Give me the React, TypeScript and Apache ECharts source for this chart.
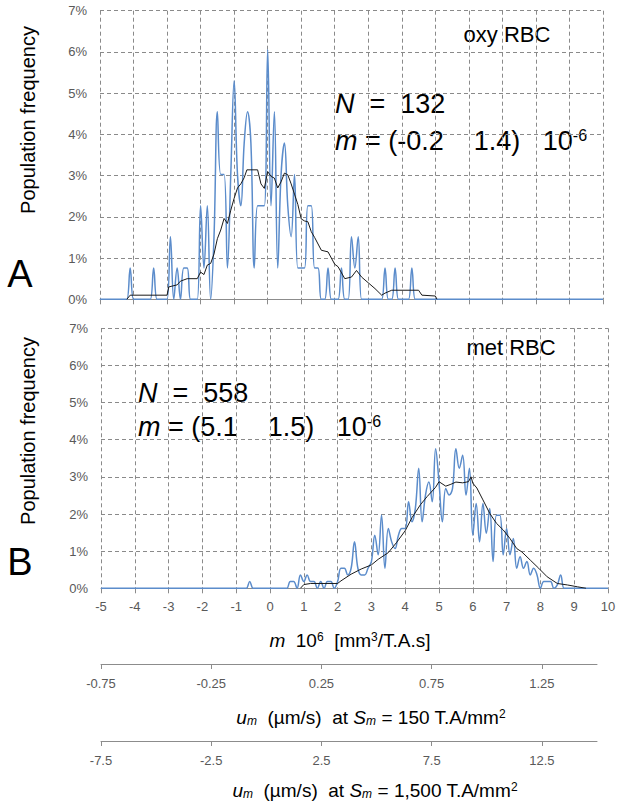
import React, { useEffect, useRef } from "react";
import * as echarts from "echarts";

// ---- data ----
// histogram bins: first bin centre and bin width (m x 10^6)
const binStart = -5;
const binStep = 0.1;

// oxy RBC population frequency (%) per bin, rows of 10 bins: -5.0..-4.1, -4.0..-3.1, ...
const oxyFreq = [
  0, 0, 0, 0, 0, 0, 0, 0, 0, 0.76,
  0, 0, 0, 0, 0, 0, 0.76, 0, 0, 0,
  0, 1.52, 0, 0.76, 0, 0.76, 0.76, 0, 0, 0,
  2.27, 0.76, 2.27, 0, 1.52, 4.55, 3.03, 3.03, 0.76, 3.03,
  5.3, 3.03, 2.27, 3.79, 4.55, 3.79, 0.76, 2.27, 2.27, 2.27,
  6.06, 2.27, 4.55, 0.76, 3.03, 3.79, 2.27, 1.52, 3.03, 0.76,
  0.76, 0.76, 2.27, 2.27, 0.76, 0.76, 0, 0, 0.76, 0,
  0, 0, 0.76, 0, 0, 1.52, 0.76, 1.52, 0, 0,
  0, 0, 0, 0, 0, 0.76, 0, 0, 0.76, 0,
  0, 0, 0, 0.76, 0, 0, 0, 0, 0, 0,
  0, 0, 0, 0, 0, 0, 0, 0, 0, 0,
  0, 0, 0, 0, 0, 0, 0, 0, 0, 0,
  0, 0, 0, 0, 0, 0, 0, 0, 0, 0,
  0, 0, 0, 0, 0, 0, 0, 0, 0, 0,
  0, 0, 0, 0, 0, 0, 0, 0, 0, 0,
  0,
];

// oxy RBC moving average [m, %]
const oxyAvg = [
  [-4.2, 0], [-4.1, 0.1], [-3.0, 0.1], [-2.95, 0.3], [-2.7, 0.35], [-2.6, 0.44], [-2.4, 0.5],
  [-2.1, 0.5], [-2.0, 0.66], [-1.9, 0.6], [-1.8, 0.83], [-1.7, 0.87], [-1.6, 1.1], [-1.5, 1.47],
  [-1.4, 1.68], [-1.3, 1.96], [-1.2, 1.84], [-1.1, 2.16], [-1.0, 2.45], [-0.9, 2.7], [-0.8, 2.8],
  [-0.7, 2.95], [-0.62, 3.14], [-0.3, 3.14], [-0.2, 2.8], [-0.1, 2.69], [0.0, 3.1], [0.1, 2.98],
  [0.2, 2.94], [0.3, 2.7], [0.4, 2.85], [0.5, 3.06], [0.6, 3.02], [0.7, 2.8], [0.8, 2.55],
  [0.9, 2.3], [1.0, 1.95], [1.1, 1.9], [1.2, 1.88], [1.3, 1.64], [1.4, 1.5], [1.6, 1.19],
  [1.8, 1.15], [2.0, 0.85], [2.1, 0.79], [2.3, 0.5], [2.5, 0.54], [2.65, 0.7], [2.8, 0.54],
  [3.0, 0.4], [3.2, 0.26], [3.4, 0.1], [3.5, 0.15], [3.7, 0.22], [4.5, 0.22], [4.6, 0.1],
  [5.0, 0.08], [5.05, 0],
];

// met RBC population frequency (%) per bin
const metFreq = [
  0, 0, 0, 0, 0, 0, 0, 0, 0, 0,
  0, 0, 0, 0, 0, 0, 0, 0, 0, 0,
  0, 0, 0, 0, 0, 0, 0, 0, 0, 0,
  0, 0, 0, 0, 0, 0, 0, 0, 0, 0,
  0, 0, 0, 0, 0.18, 0, 0, 0, 0, 0,
  0, 0, 0, 0, 0, 0, 0.18, 0.18, 0, 0.36,
  0.18, 0.36, 0.18, 0.18, 0, 0.18, 0, 0.18, 0.18, 0,
  0.18, 0.54, 0.54, 0.36, 0.54, 1.25, 0.54, 0.36, 0.36, 0.54,
  0.72, 1.43, 0.9, 1.97, 0.54, 1.61, 1.25, 1.07, 1.43, 1.61,
  1.61, 2.33, 1.79, 2.15, 3.23, 1.79, 2.51, 2.86, 2.33, 3.76,
  2.86, 1.79, 2.69, 2.51, 2.69, 3.76, 3.23, 3.58, 2.51, 3.23,
  1.43, 2.28, 1.25, 2.28, 1.48, 2.15, 0.72, 1.97, 1.97, 0.9,
  1.61, 0.9, 1.34, 0.54, 0.85, 0.54, 0.72, 0.36, 0.54, 0.36,
  0, 0.18, 0.18, 0.18, 0, 0.09, 0.36, 0, 0, 0,
  0, 0, 0, 0, 0, 0, 0, 0, 0, 0,
  0,
];

// met RBC moving average [m, %]
const metAvg = [
  [0.9, 0], [1.0, 0.1], [1.2, 0.13], [2.0, 0.13], [2.1, 0.2], [2.4, 0.38], [2.7, 0.52],
  [3.0, 0.63], [3.2, 0.78], [3.4, 0.9], [3.5, 0.96], [3.75, 1.24], [4.0, 1.55], [4.2, 1.9],
  [4.45, 2.25], [4.65, 2.47], [4.9, 2.72], [5.0, 2.87], [5.2, 2.75], [5.35, 2.8], [5.5, 2.86],
  [5.7, 2.84], [5.87, 2.87], [5.95, 3.0], [6.0, 2.83], [6.12, 2.7], [6.3, 2.38], [6.5, 2.02],
  [6.7, 1.75], [6.9, 1.57], [7.1, 1.34], [7.3, 1.07], [7.45, 0.98], [7.7, 0.76], [7.95, 0.54],
  [8.2, 0.31], [8.5, 0.13], [8.8, 0.09], [9.1, 0.04], [9.35, 0],
];

// secondary axes
const u150Range = [-0.75, 1.5];
const u150Ticks = [-0.75, -0.25, 0.25, 0.75, 1.25];
const u1500Range = [-7.5, 15];
const u1500Ticks = [-7.5, -2.5, 2.5, 7.5, 12.5];

const FONT = '"Liberation Sans", Arial, Helvetica, sans-serif';
const GRID_COLOR = "#8a8a8a";
const AXIS_COLOR = "#8c8c8c";
const LABEL_COLOR = "#595959";
const BLUE = "#5b8ccb";

const toPts = (vals: number[]) =>
  vals.map((v, i) => [Number((binStart + i * binStep).toFixed(1)), v]);

const mainX = (gridIndex: number, showLabels: boolean) => ({
  gridIndex,
  type: "value",
  min: -5,
  max: 10,
  interval: 1,
  axisLine: { show: true, onZero: false, lineStyle: { color: AXIS_COLOR, width: 1 } },
  axisTick: { show: true, length: 5, lineStyle: { color: AXIS_COLOR } },
  axisLabel: {
    show: showLabels,
    color: LABEL_COLOR,
    fontSize: 13,
    fontFamily: FONT,
    margin: 12,
  },
  splitLine: { show: true, lineStyle: { color: GRID_COLOR, type: [4, 3], width: 1 } },
});

const mainY = (gridIndex: number) => ({
  gridIndex,
  type: "value",
  min: 0,
  max: 7,
  interval: 1,
  axisLine: { show: false },
  axisTick: { show: false },
  axisLabel: {
    formatter: "{value}%",
    color: LABEL_COLOR,
    fontSize: 13,
    fontFamily: FONT,
    margin: 13,
  },
  splitLine: {
    show: true,
    showMinLine: false,
    lineStyle: { color: GRID_COLOR, type: [4, 3], width: 1 },
  },
});

const secondaryX = (gridIndex: number, range: number[], ticks: number[], digits: number) => ({
  gridIndex,
  type: "value",
  min: range[0],
  max: range[1],
  axisLine: { show: true, onZero: false, lineStyle: { color: AXIS_COLOR, width: 1 } },
  axisTick: { show: true, length: 5, customValues: ticks, lineStyle: { color: AXIS_COLOR } },
  axisLabel: {
    show: true,
    customValues: ticks,
    formatter: (v: number) => v.toFixed(digits),
    color: LABEL_COLOR,
    fontSize: 13,
    fontFamily: FONT,
    margin: 13,
  },
  splitLine: { show: false },
});

const hiddenY = (gridIndex: number) => ({
  gridIndex,
  type: "value",
  min: 0,
  max: 1,
  show: false,
});

const richBase = {
  n: { fontSize: 19, fontFamily: FONT, fill: "#000" },
  i: { fontSize: 19, fontFamily: FONT, fontStyle: "italic", fill: "#000" },
  sup: { fontSize: 12, fontFamily: FONT, verticalAlign: "top", fill: "#000" },
  isub: { fontSize: 12, fontFamily: FONT, fontStyle: "italic", verticalAlign: "bottom", fill: "#000" },
  N: { fontSize: 27, fontFamily: FONT, fill: "#000" },
  NI: { fontSize: 27, fontFamily: FONT, fontStyle: "italic", fill: "#000" },
  NS: { fontSize: 16, fontFamily: FONT, verticalAlign: "top", fill: "#000" },
};

const txt = (x: number, y: number, text: string, extra: any = {}, rotation = 0) => ({
  type: "text",
  x,
  y,
  rotation,
  silent: true,
  style: {
    text,
    fontFamily: FONT,
    fontSize: 18,
    fill: "#000",
    align: "center",
    verticalAlign: "middle",
    rich: richBase,
    ...extra,
  },
});

export default function App() {
  const ref = useRef<HTMLDivElement>(null);

  useEffect(() => {
    if (!ref.current) return;
    const chart = echarts.init(ref.current, undefined, { renderer: "svg" });

    const option: any = {
      animation: false,
      backgroundColor: "#ffffff",
      grid: [
        { left: 100, top: 10.7, width: 503, height: 288.6 },
        { left: 101, top: 328.3, width: 507, height: 260 },
        { left: 101, top: 663, width: 496, height: 1 },
        { left: 101, top: 740, width: 496, height: 1 },
      ],
      xAxis: [
        mainX(0, false),
        mainX(1, true),
        secondaryX(2, u150Range, u150Ticks, 2),
        secondaryX(3, u1500Range, u1500Ticks, 1),
      ],
      yAxis: [mainY(0), mainY(1), hiddenY(2), hiddenY(3)],
      series: [
        {
          type: "line",
          xAxisIndex: 0,
          yAxisIndex: 0,
          data: toPts(oxyFreq),
          smooth: 0.4,
          showSymbol: false,
          lineStyle: { color: BLUE, width: 1.5 },
          z: 3,
        },
        {
          type: "line",
          xAxisIndex: 0,
          yAxisIndex: 0,
          data: oxyAvg,
          showSymbol: false,
          lineStyle: { color: "#1a1a1a", width: 1 },
          z: 4,
        },
        {
          type: "line",
          xAxisIndex: 1,
          yAxisIndex: 1,
          data: toPts(metFreq),
          smooth: 0.4,
          showSymbol: false,
          lineStyle: { color: BLUE, width: 1.5 },
          z: 3,
        },
        {
          type: "line",
          xAxisIndex: 1,
          yAxisIndex: 1,
          data: metAvg,
          showSymbol: false,
          lineStyle: { color: "#1a1a1a", width: 1 },
          z: 4,
        },
      ],
      graphic: [
        txt(28, 120, "Population frequency", { fontSize: 20 }, Math.PI / 2),
        txt(28, 431, "Population frequency", { fontSize: 20 }, Math.PI / 2),
        txt(20, 274, "A", { fontSize: 38 }),
        txt(20, 562, "B", { fontSize: 38 }),
        txt(507, 34, "oxy RBC", { fontSize: 22 }),
        txt(511, 347, "met RBC", { fontSize: 22 }),
        txt(335, 104, "{NI|N}{N|  =  132}", { align: "left" }),
        txt(335, 141, "{NI|m}{N| = (-0.2    1.4)   10}{NS|-6}", { align: "left" }),
        txt(138, 393, "{NI|N}{N|  =  558}", { align: "left" }),
        txt(138, 427, "{NI|m}{N| = (5.1    1.5)   10}{NS|-6}", { align: "left" }),
        txt(350, 640, "{i|m}{n|  10}{sup|6}{n|  [mm}{sup|3}{n|/T.A.s]}"),
        txt(371, 717, "{i|u}{isub|m}{n|  (µm/s)  at }{i|S}{isub|m}{n| = 150 T.A/mm}{sup|2}"),
        txt(375, 790, "{i|u}{isub|m}{n|  (µm/s)  at }{i|S}{isub|m}{n| = 1,500 T.A/mm}{sup|2}"),
      ],
    };

    chart.setOption(option);
    return () => chart.dispose();
  }, []);

  return (
    <div
      ref={ref}
      style={{ position: "absolute", left: 0, top: 0, width: 624, height: 806, background: "#fff" }}
    />
  );
}
